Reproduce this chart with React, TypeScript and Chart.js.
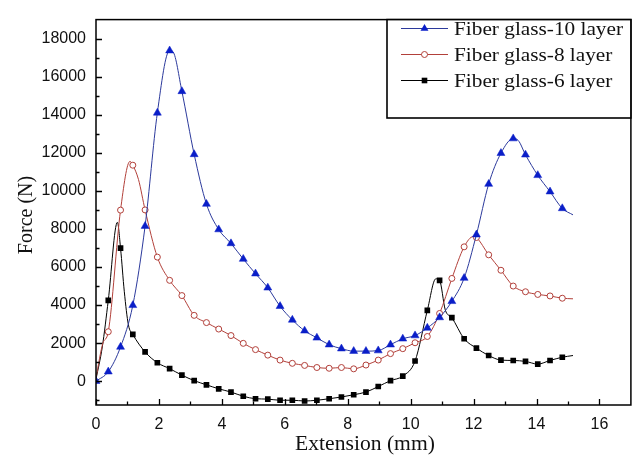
import React, { useEffect, useRef } from "react";
import { Chart, registerables } from "chart.js";

Chart.register(...registerables);

// Marker positions along the extension axis (mm)
const markerX = [0, 0.39, 0.78, 1.17, 1.56, 1.95, 2.34, 2.73, 3.12, 3.51, 3.9, 4.29, 4.68, 5.07, 5.46, 5.85, 6.24, 6.63, 7.02, 7.41, 7.8, 8.19, 8.58, 8.97, 9.36, 9.75, 10.14, 10.53, 10.92, 11.31, 11.7, 12.09, 12.48, 12.87, 13.26, 13.65, 14.04, 14.43, 14.82];

// Force values (N) at the marker positions
const blue10 = [0, 500, 1800, 3990, 8150, 14100, 17370, 15230, 11920, 9310, 7970, 7240, 6420, 5650, 4910, 3940, 3220, 2650, 2280, 1920, 1710, 1580, 1580, 1610, 1920, 2230, 2400, 2800, 3350, 4200, 5420, 7700, 10360, 11980, 12750, 11900, 10820, 9960, 9080];
const red8 = [null, 2600, 8990, 11350, 9000, 6520, 5300, 4500, 3460, 3080, 2740, 2400, 1990, 1660, 1370, 1110, 940, 830, 720, 680, 720, 650, 850, 1110, 1450, 1710, 2020, 2350, 3560, 5400, 7060, 7550, 6640, 5830, 5000, 4700, 4560, 4480, 4360];
const black6 = [null, 4250, 6990, 2460, 1540, 970, 660, 320, 30, -190, -400, -570, -790, -920, -940, -1000, -1000, -1040, -1000, -920, -830, -710, -570, -280, 30, 270, 1060, 3720, 5300, 3340, 2230, 1740, 1350, 1110, 1090, 1040, 900, 1090, 1260];

// Extra curve points (no marker)
const blueExtraX = [2.45, 13.42, 15.16];
const blueExtraY = [17300, 12650, 8740];
const redExtraX = [0, 0.22, 1.08, 1.35, 11.99, 15.16];
const redExtraY = [200, 2000, 11550, 10600, 7600, 4330];
const blackExtraX = [0, 0.2, 0.68, 0.9, 1.03, 10.8, 11.1, 15.16];
const blackExtraY = [100, 1800, 8350, 4700, 2960, 5380, 3750, 1350];

const seriesNames = ["Fiber glass-10 layer", "Fiber glass-8 layer", "Fiber glass-6 layer"];
const xTickValues = [0, 2, 4, 6, 8, 10, 12, 14, 16];
const yTickValues = [0, 2000, 4000, 6000, 8000, 10000, 12000, 14000, 16000, 18000];
const xTitle = "Extension (mm)";
const yTitle = "Force (N)";

const BLUE_LINE = "#2c3a9c";
const BLUE_MARK = "#0a1ec8";
const RED = "#b2403a";
const BLACK = "#000000";

type P = { x: number; y: number; m: boolean };

function buildPoints(ys: (number | null)[], ex: number[], ey: number[]): P[] {
  const pts: P[] = [];
  markerX.forEach((x, i) => {
    const v = ys[i];
    if (v !== null && v !== undefined) pts.push({ x, y: v, m: true });
  });
  ex.forEach((x, i) => pts.push({ x, y: ey[i], m: false }));
  pts.sort((a, b) => a.x - b.x);
  return pts;
}

function drawMarker(ctx: CanvasRenderingContext2D, kind: number, x: number, y: number) {
  ctx.save();
  ctx.lineWidth = 1;
  if (kind === 0) {
    const r = 4.6;
    ctx.beginPath();
    for (let k = 0; k < 3; k++) {
      const a = -Math.PI / 2 + (k * 2 * Math.PI) / 3;
      const px = x + r * Math.cos(a);
      const py = y + r * Math.sin(a);
      if (k === 0) ctx.moveTo(px, py);
      else ctx.lineTo(px, py);
    }
    ctx.closePath();
    ctx.fillStyle = BLUE_MARK;
    ctx.fill();
  } else if (kind === 1) {
    ctx.beginPath();
    ctx.arc(x, y, 3, 0, Math.PI * 2);
    ctx.fillStyle = "#fff";
    ctx.fill();
    ctx.strokeStyle = RED;
    ctx.stroke();
  } else {
    ctx.fillStyle = BLACK;
    ctx.fillRect(x - 2.8, y - 2.8, 5.6, 5.6);
  }
  ctx.restore();
}

const decorPlugin = {
  id: "decor",
  afterDraw(chart: any) {
    const ctx: CanvasRenderingContext2D = chart.ctx;
    const { left, right, top, bottom } = chart.chartArea;
    const xs = chart.scales.x;
    const ys = chart.scales.y;
    ctx.save();
    // frame
    ctx.strokeStyle = "#000";
    ctx.lineWidth = 1.5;
    ctx.strokeRect(left, top, right - left, bottom - top);
    // inward ticks
    ctx.lineWidth = 1.3;
    ctx.beginPath();
    for (let v = 0; v <= 16; v++) {
      const px = Math.round(xs.getPixelForValue(v)) + 0.5;
      const len = v % 2 === 0 ? 6 : 3.5;
      ctx.moveTo(px, bottom);
      ctx.lineTo(px, bottom - len);
    }
    for (let v = -1000; v <= 18000; v += 1000) {
      const py = Math.round(ys.getPixelForValue(v)) + 0.5;
      const len = v % 2000 === 0 ? 6 : 3.5;
      ctx.moveTo(left, py);
      ctx.lineTo(left + len, py);
    }
    ctx.stroke();

    // axis titles
    ctx.fillStyle = "#111";
    ctx.font = '20px "Liberation Serif"';
    ctx.textAlign = "center";
    ctx.textBaseline = "alphabetic";
    ctx.save();
    ctx.translate(365, 450);
    ctx.scale(1.08, 1);
    ctx.fillText(xTitle, 0, 0);
    ctx.restore();
    ctx.save();
    ctx.translate(32, 215);
    ctx.rotate(-Math.PI / 2);
    ctx.fillText(yTitle, 0, 0);
    ctx.restore();

    // legend
    const bx = 387, by = top, bw = right - 387, bh = 118 - top;
    ctx.fillStyle = "#fff";
    ctx.fillRect(bx, by, bw, bh);
    ctx.strokeStyle = "#000";
    ctx.lineWidth = 1.6;
    ctx.strokeRect(bx, by, bw, bh);
    const lineColors = [BLUE_LINE, RED, BLACK];
    const baselines = [35, 61, 87];
    seriesNames.forEach((name, i) => {
      const ly = baselines[i] - 6.5;
      ctx.strokeStyle = lineColors[i];
      ctx.lineWidth = 1;
      ctx.beginPath();
      ctx.moveTo(401, ly);
      ctx.lineTo(448, ly);
      ctx.stroke();
      drawMarker(ctx, i, 424.5, ly);
      ctx.save();
      ctx.fillStyle = "#111";
      ctx.font = '19px "Liberation Serif"';
      ctx.textAlign = "left";
      ctx.translate(454, baselines[i]);
      ctx.scale(1.12, 1);
      ctx.fillText(name, 0, 0);
      ctx.restore();
    });
    ctx.restore();
  },
};

export default function App() {
  const ref = useRef<HTMLCanvasElement | null>(null);
  useEffect(() => {
    if (!ref.current) return;
    const mk = (r: number) => (c: any) => (c.raw && c.raw.m ? r : 0);
    const chart = new Chart(ref.current, {
      type: "line",
      data: {
        datasets: [
          {
            label: seriesNames[0],
            data: buildPoints(blue10, blueExtraX, blueExtraY),
            borderColor: BLUE_LINE,
            borderWidth: 1,
            backgroundColor: BLUE_MARK,
            pointBackgroundColor: BLUE_MARK,
            pointBorderColor: BLUE_MARK,
            pointBorderWidth: 0.5,
            pointStyle: "triangle",
            pointRadius: mk(4.6),
            cubicInterpolationMode: "monotone",
          },
          {
            label: seriesNames[1],
            data: buildPoints(red8, redExtraX, redExtraY),
            borderColor: RED,
            borderWidth: 1,
            backgroundColor: "#fff",
            pointBackgroundColor: "#fff",
            pointBorderColor: RED,
            pointBorderWidth: 1,
            pointStyle: "circle",
            pointRadius: mk(3),
            cubicInterpolationMode: "monotone",
          },
          {
            label: seriesNames[2],
            data: buildPoints(black6, blackExtraX, blackExtraY),
            borderColor: BLACK,
            borderWidth: 1,
            backgroundColor: BLACK,
            pointBackgroundColor: BLACK,
            pointBorderColor: BLACK,
            pointBorderWidth: 0,
            pointStyle: "rect",
            pointRadius: mk(4),
            cubicInterpolationMode: "monotone",
          },
        ],
      },
      options: {
        responsive: false,
        animation: false,
        devicePixelRatio: 1,
        layout: { padding: { left: 0, right: 5, top: 9, bottom: 0 } },
        plugins: { legend: { display: false }, tooltip: { enabled: false }, title: { display: false } },
        scales: {
          x: {
            type: "linear",
            min: 0,
            max: 17,
            grid: { display: false, drawTicks: false, tickLength: 0 },
            border: { display: false },
            ticks: {
              padding: 10,
              color: "#111",
              font: { family: "Liberation Sans", size: 16 },
              maxRotation: 0,
              callback: (v: any) => String(v),
            },
            afterBuildTicks: (s: any) => {
              s.ticks = xTickValues.map((v) => ({ value: v }));
            },
            afterFit: (s: any) => {
              s.height = 53;
            },
          },
          y: {
            type: "linear",
            min: -1250,
            max: 19000,
            grid: { display: false, drawTicks: false, tickLength: 0 },
            border: { display: false },
            ticks: {
              padding: 10,
              color: "#111",
              font: { family: "Liberation Sans", size: 16 },
              callback: (v: any) => String(v),
            },
            afterBuildTicks: (s: any) => {
              s.ticks = yTickValues.map((v) => ({ value: v }));
            },
            afterFit: (s: any) => {
              s.width = 96;
            },
          },
        },
      },
      plugins: [decorPlugin],
    } as any);
    return () => chart.destroy();
  }, []);
  return (
    <div style={{ position: "fixed", left: 0, top: 0, width: 636, height: 458, background: "#fff" }}>
      <canvas ref={ref} width={636} height={458} />
    </div>
  );
}
